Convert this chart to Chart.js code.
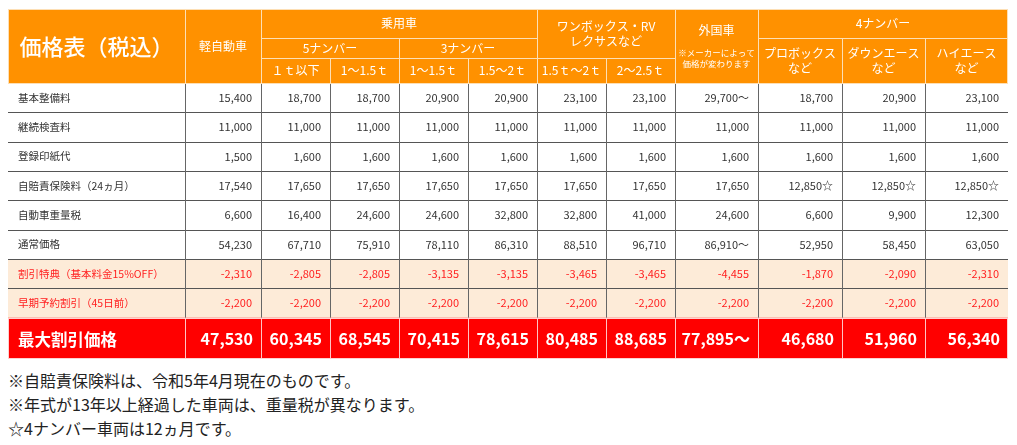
<!DOCTYPE html>
<html lang="ja"><head><meta charset="utf-8">
<script src="https://cdn.jsdelivr.net/npm/chart.js@4.4.0/dist/chart.umd.min.js"></script>
<style>
html,body{margin:0;padding:0;background:#fff;}
#wrap{position:absolute;left:0;top:0;width:1017px;height:362px;}
#notes{position:absolute;left:8px;top:368px;font-family:"Noto Sans CJK JP",sans-serif;font-size:16px;line-height:24px;color:#222;white-space:nowrap;}
#notes div{height:24px;}
</style></head><body>
<div id="wrap"><canvas id="c" width="1017" height="362"></canvas></div>
<div id="notes">
<div>※自賠責保険料は、令和5年4月現在のものです。</div>
<div>※年式が13年以上経過した車両は、重量税が異なります。</div>
<div>☆4ナンバー車両は12ヵ月です。</div>
</div>
<script>
// ---------- data ----------
const headerTitle = '価格表（税込）';
const keiLabel = '軽自動車';
const passengerLabel = '乗用車';
const plateGroups = ['5ナンバー', '3ナンバー'];
const weightClasses = ['１ｔ以下', '1～1.5ｔ', '1～1.5ｔ', '1.5～2ｔ', '1.5ｔ～2ｔ', '2～2.5ｔ'];
const vanLabel = ['ワンボックス・RV', 'レクサスなど'];
const foreignLabel = '外国車';
const foreignNote = ['※メーカーによって', '価格が変わります'];
const commercialLabel = '4ナンバー';
const commercialModels = [['プロボックス', 'など'], ['ダウンエース', 'など'], ['ハイエース', 'など']];

const rowLabels = ['基本整備料', '継続検査料', '登録印紙代', '自賠責保険料（24ヵ月）', '自動車重量税', '通常価格', '割引特典（基本料金15%OFF）', '早期予約割引（45日前）', '最大割引価格'];

const basicFee      = [15400, 18700, 18700, 20900, 20900, 23100, 23100, 29700, 18700, 20900, 23100];
const inspectionFee = [11000, 11000, 11000, 11000, 11000, 11000, 11000, 11000, 11000, 11000, 11000];
const stampFee      = [1500, 1600, 1600, 1600, 1600, 1600, 1600, 1600, 1600, 1600, 1600];
const insurance     = [17540, 17650, 17650, 17650, 17650, 17650, 17650, 17650, 12850, 12850, 12850];
const weightTax     = [6600, 16400, 24600, 24600, 32800, 32800, 41000, 24600, 6600, 9900, 12300];
const regularPrice  = [54230, 67710, 75910, 78110, 86310, 88510, 96710, 86910, 52950, 58450, 63050];
const discount      = [-2310, -2805, -2805, -3135, -3135, -3465, -3465, -4455, -1870, -2090, -2310];
const earlyDiscount = [-2200, -2200, -2200, -2200, -2200, -2200, -2200, -2200, -2200, -2200, -2200];
const finalPrice    = [47530, 60345, 68545, 70415, 78615, 80485, 88685, 77895, 46680, 51960, 56340];

const rowsValues = [basicFee, inspectionFee, stampFee, insurance, weightTax, regularPrice, discount, earlyDiscount, finalPrice];
const fromPriceRows = [0, 5, 8];   // rows where foreign column is "～"
const fromPriceCol = 7;
const starRow = 3;                  // 自賠責 12ヵ月 for 4ナンバー
const starCols = [8, 9, 10];

// ---------- layout (grid units, 1 unit = 1 px) ----------
const COLS = [0, 177, 253, 322, 391, 460, 529, 598, 667, 750, 834, 917, 1000];
const HEAD = [0, 29, 49, 74];
const BODY_H = 29.35;
const FONT = '"Noto Sans CJK JP", sans-serif';
const ORANGE = '#FF9100', HEADLINE = '#FDDFB5', PEACH = '#FDEBD8', RED = '#FF0000';

const tablePlugin = {
  id: 'priceTable',
  afterDraw(chart) {
    const ctx = chart.ctx, X = chart.scales.x, Y = chart.scales.y;
    const px = u => X.getPixelForValue(u), py = v => Y.getPixelForValue(v);
    const rowTop = i => HEAD[3] + i * BODY_H;
    const bodyBottom = 350;
    const rowBot = i => (i === rowLabels.length - 1 ? bodyBottom : rowTop(i + 1));
    ctx.save();
    ctx.fillStyle = ORANGE;
    ctx.fillRect(px(0), py(0), px(1000) - px(0), py(HEAD[3]) - py(0));
    rowLabels.forEach((_, i) => {
      ctx.fillStyle = i === 8 ? RED : (i >= 6 ? PEACH : '#FFFFFF');
      ctx.fillRect(px(0), py(rowTop(i)), px(1000) - px(0), py(rowBot(i)) - py(rowTop(i)));
    });
    const line = (x1, y1, x2, y2, col, w) => {
      ctx.strokeStyle = col; ctx.lineWidth = w || 1;
      ctx.beginPath(); ctx.moveTo(x1, y1); ctx.lineTo(x2, y2); ctx.stroke();
    };
    const vx = u => Math.round(px(u)) + 0.5, hy = v => Math.round(py(v)) + 0.5;
    for (let i = 1; i <= 8; i++) line(px(0), hy(rowTop(i)), px(1000), hy(rowTop(i)), '#555');
    for (let c = 1; c < COLS.length - 1; c++) line(vx(COLS[c]), py(HEAD[3]), vx(COLS[c]), py(rowTop(8)), '#666');
    for (let c = 1; c < COLS.length - 1; c++) line(vx(COLS[c]), py(rowTop(8)), vx(COLS[c]), py(bodyBottom), '#FFC4C4');
    line(px(0), hy(rowTop(8)), px(1000), hy(rowTop(8)), '#FF9A9A');
    ctx.strokeStyle = '#FFD0D0'; ctx.lineWidth = 1;
    ctx.strokeRect(vx(0), hy(rowTop(8)), Math.round(px(1000) - px(0)) - 1, Math.round(py(bodyBottom) - py(rowTop(8))) - 1);
    const hv = [[177, 0, 74], [253, 0, 74], [322, 49, 74], [391, 29, 74], [460, 49, 74], [529, 0, 74], [598, 49, 74], [667, 0, 74], [750, 0, 74], [834, 29, 74], [917, 29, 74]];
    hv.forEach(([u, a, b]) => line(vx(u), py(a), vx(u), py(b), HEADLINE));
    line(px(253), hy(29), px(529), hy(29), HEADLINE);
    line(px(750), hy(29), px(1000), hy(29), HEADLINE);
    line(px(253), hy(49), px(667), hy(49), HEADLINE);
    ctx.strokeStyle = HEADLINE;
    ctx.strokeRect(vx(0), hy(0), Math.round(px(1000) - px(0)) - 1, Math.round(py(74) - py(0)));

    const text = (s, x, y, font, color, align) => {
      ctx.font = font; ctx.fillStyle = color; ctx.textAlign = align || 'center'; ctx.textBaseline = 'middle';
      ctx.fillText(s, x, y);
    };
    const cx = (a, b) => (px(COLS[a]) + px(COLS[b])) / 2;
    const cy = (a, b) => (py(a) + py(b)) / 2;
    const W = '#FFFFFF', H12 = '12px ' + FONT;
    text(headerTitle, cx(0, 1), cy(0, 74) + 1, '500 22px ' + FONT, W);
    text(keiLabel, cx(1, 2), cy(0, 74), H12, W);
    text(passengerLabel, cx(2, 6), cy(0, 29), H12, W);
    text(plateGroups[0], cx(2, 4), cy(29, 49), H12, W);
    text(plateGroups[1], cx(4, 6), cy(29, 49), H12, W);
    weightClasses.forEach((s, k) => text(s, cx(k + 2, k + 3), cy(49, 74), H12, W));
    text(vanLabel[0], cx(6, 8), cy(0, 49) - 7, H12, W);
    text(vanLabel[1], cx(6, 8), cy(0, 49) + 8, H12, W);
    text(foreignLabel, cx(8, 9), py(21), H12, W);
    text(foreignNote[0], cx(8, 9), py(44), '8.5px ' + FONT, W);
    text(foreignNote[1], cx(8, 9), py(55), '8.5px ' + FONT, W);
    text(commercialLabel, cx(9, 12), cy(0, 29), H12, W);
    commercialModels.forEach((m, k) => {
      text(m[0], cx(k + 9, k + 10), cy(29, 74) - 7, H12, W);
      text(m[1], cx(k + 9, k + 10), cy(29, 74) + 8, H12, W);
    });
    rowLabels.forEach((lab, i) => {
      const yc = cy(rowTop(i), rowBot(i));
      const isFinal = i === 8, isDisc = i === 6 || i === 7;
      const color = isFinal ? W : (isDisc ? '#FF1E1E' : '#333333');
      text(lab, px(0) + 10, yc + (isFinal ? 1 : 0), isFinal ? 'bold 16.5px ' + FONT : '10.5px ' + FONT, color, 'left');
      rowsValues[i].forEach((v, c) => {
        let s = v.toLocaleString('en-US');
        if (c === fromPriceCol && fromPriceRows.includes(i)) s += '～';
        if (i === starRow && starCols.includes(c)) s += '☆';
        const right = px(COLS[c + 2]) - (isFinal ? 8 : 9);
        text(s, right, yc + (isFinal ? 1 : 0), isFinal ? 'bold 16px ' + FONT : '11px ' + FONT, color, 'right');
      });
    });
    ctx.restore();
  }
};

function build() {
  new Chart(document.getElementById('c'), {
    type: 'scatter',
    data: { datasets: [{ data: [], showLine: false }] },
    options: {
      responsive: false, animation: false, devicePixelRatio: 1,
      layout: { padding: { left: 8, right: 9, top: 9, bottom: 3 } },
      scales: {
        x: { type: 'linear', min: 0, max: 1000, display: false },
        y: { type: 'linear', min: 0, max: 350, reverse: true, display: false }
      },
      plugins: { legend: { display: false }, tooltip: { enabled: false } }
    },
    plugins: [tablePlugin]
  });
}
Promise.all([
  document.fonts.load('12px "Noto Sans CJK JP"'),
  document.fonts.load('bold 12px "Noto Sans CJK JP"'),
  document.fonts.load('500 22px "Noto Sans CJK JP"')
]).catch(() => {}).then(build);
</script>
</body></html>
